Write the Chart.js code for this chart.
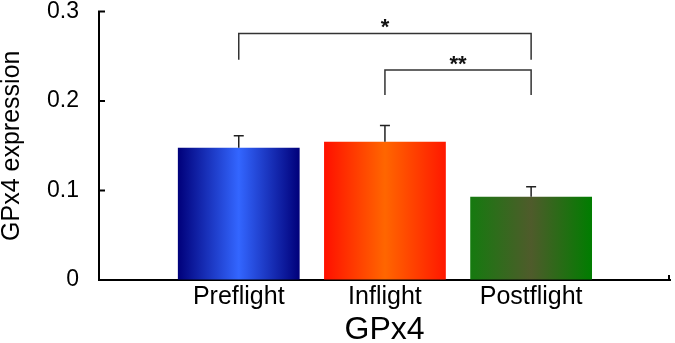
<!DOCTYPE html>
<html>
<head>
<meta charset="utf-8">
<script src="https://cdn.jsdelivr.net/npm/chart.js@4/dist/chart.umd.min.js"></script>
<style>
  html, body { margin: 0; padding: 0; background: #fff; }
  #wrap { width: 675px; height: 343px; }
</style>
</head>
<body>
<div id="wrap"><canvas id="c" width="675" height="343"></canvas></div>
<script>
const categories = ['Preflight', 'Inflight', 'Postflight'];
const values = [0.1478, 0.1545, 0.0931];
const errors = [0.0134, 0.018, 0.011];
const yTicks = [0, 0.1, 0.2, 0.3];
const yTickLabels = ['0', '0.1', '0.2', '0.3'];
const xTitle = 'GPx4';
const yTitle = 'GPx4 expression';
// significance brackets: [fromIndex, toIndex, topValue, legBottomValue, label]
const brackets = [
  [0, 2, 0.2755, 0.246, '*'],
  [1, 2, 0.2346, 0.2067, '**']
];
const gradientStops = [
  ['#00007a', '#3366ff', '#00007a'],
  ['#ff1000', '#ff6600', '#ff1800'],
  ['#157a0f', '#4f5b2b', '#007d00']
];

const FONT = "'Liberation Sans', Arial, sans-serif";
const CAT_PCT = 0.833;

function barGradient(ctx) {
  const chart = ctx.chart;
  const i = ctx.dataIndex;
  const xs = chart.scales && chart.scales.x;
  if (i === undefined || !xs || !chart.chartArea) return gradientStops[0][0];
  const step = xs.getPixelForValue(2) - xs.getPixelForValue(1);
  const cx = xs.getPixelForValue(i + 1);
  const half = step * CAT_PCT / 2;
  const g = chart.ctx.createLinearGradient(cx - half, 0, cx + half, 0);
  const s = gradientStops[i];
  g.addColorStop(0, s[0]);
  g.addColorStop(0.5, s[1]);
  g.addColorStop(1, s[2]);
  return g;
}

const extras = {
  id: 'extras',
  afterDatasetsDraw(chart) {
    const ctx = chart.ctx;
    const xs = chart.scales.x, ys = chart.scales.y;
    ctx.save();
    // error bars (upper)
    ctx.strokeStyle = '#222';
    ctx.lineWidth = 1.5;
    values.forEach((v, i) => {
      const x = xs.getPixelForValue(i + 1);
      const y0 = ys.getPixelForValue(v);
      const y1 = ys.getPixelForValue(v + errors[i]);
      ctx.beginPath();
      ctx.moveTo(x, y0);
      ctx.lineTo(x, y1);
      ctx.moveTo(x - 5, y1);
      ctx.lineTo(x + 5, y1);
      ctx.stroke();
    });
    // inward y ticks
    ctx.strokeStyle = '#000';
    ctx.lineWidth = 2;
    const ax = chart.chartArea.left;
    yTicks.forEach(t => {
      if (t === 0) return;
      const y = ys.getPixelForValue(t);
      ctx.beginPath();
      ctx.moveTo(ax - 1, y);
      ctx.lineTo(ax + 6, y);
      ctx.stroke();
    });
    // right end tick of x axis
    const right = chart.chartArea.right;
    const bottom = chart.chartArea.bottom;
    ctx.beginPath();
    ctx.moveTo(right - 1, bottom + 1);
    ctx.lineTo(right - 1, bottom - 5);
    ctx.stroke();
    // brackets
    ctx.strokeStyle = '#333';
    ctx.lineWidth = 1.5;
    ctx.fillStyle = '#111';
    ctx.font = 'bold 22px ' + FONT;
    ctx.textAlign = 'center';
    ctx.textBaseline = 'alphabetic';
    brackets.forEach(b => {
      const xa = xs.getPixelForValue(b[0] + 1);
      const xb = xs.getPixelForValue(b[1] + 1);
      const yt = ys.getPixelForValue(b[2]);
      const yl = ys.getPixelForValue(b[3]);
      ctx.beginPath();
      ctx.moveTo(xa, yl);
      ctx.lineTo(xa, yt);
      ctx.lineTo(xb, yt);
      ctx.lineTo(xb, yl);
      ctx.stroke();
      ctx.fillText(b[4], (xa + xb) / 2, yt + 1);
    });
    ctx.restore();
  }
};

new Chart(document.getElementById('c'), {
  type: 'bar',
  data: {
    datasets: [{
      data: values.map((v, i) => ({ x: i + 1, y: v })),
      backgroundColor: barGradient,
      borderWidth: 0,
      categoryPercentage: CAT_PCT,
      barPercentage: 1
    }]
  },
  options: {
    responsive: false,
    animation: false,
    events: [],
    layout: { padding: { left: 0, right: 5, top: 11.5, bottom: 0 } },
    plugins: { legend: { display: false }, tooltip: { enabled: false } },
    scales: {
      x: {
        type: 'linear',
        offset: false,
        min: 0.044,
        max: 3.95,
        afterBuildTicks(scale) { scale.ticks = [1, 2, 3].map(v => ({ value: v })); },
        afterFit(scale) { scale.height = 63; },
        grid: { display: true, drawOnChartArea: false, drawTicks: false },
        border: { display: true, color: '#000', width: 2 },
        ticks: {
          autoSkip: false,
          maxRotation: 0,
          padding: 5,
          color: '#000',
          font: { family: FONT, size: 25, lineHeight: 1 },
          callback: v => categories[v - 1] || ''
        },
        title: {
          display: true,
          text: xTitle,
          color: '#000',
          padding: { top: 0, bottom: -3 },
          font: { family: FONT, size: 32, lineHeight: 1 }
        }
      },
      y: {
        min: 0,
        max: 0.3,
        afterBuildTicks(scale) { scale.ticks = yTicks.map(v => ({ value: v })); },
        afterFit(scale) { scale.width = 99; },
        grid: { display: true, drawOnChartArea: false, drawTicks: true, tickLength: 20, tickColor: 'rgba(0,0,0,0)' },
        border: { display: true, color: '#000', width: 2 },
        ticks: {
          padding: 0,
          color: '#000',
          font: { family: FONT, size: 23, lineHeight: 1 },
          callback: v => { const k = yTicks.indexOf(v); return k >= 0 ? yTickLabels[k] : ''; }
        },
        title: {
          display: true,
          text: yTitle,
          color: '#000',
          padding: { top: 0, bottom: 0 },
          font: { family: FONT, size: 25, lineHeight: 1 }
        }
      }
    }
  },
  plugins: [extras]
});
</script>
</body>
</html>
